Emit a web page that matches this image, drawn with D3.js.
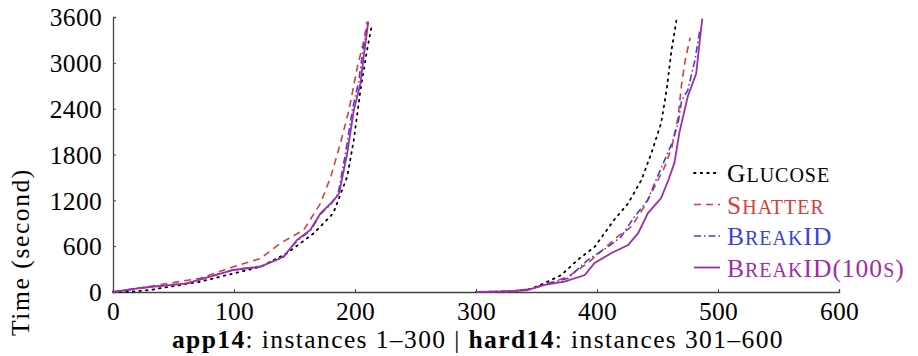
<!DOCTYPE html>
<html>
<head>
<meta charset="utf-8">
<script src="https://cdn.jsdelivr.net/npm/d3@7"></script>
<style>
  body { margin: 0; background: #fff; }
  svg text { font-family: "Liberation Serif", serif; }
</style>
</head>
<body>
<div id="chart"></div>
<script>
// chart size
const width = 918;
const height = 356;

// tick values
const xTicks = [0, 100, 200, 300, 400, 500, 600];
const yTicks = [0, 600, 1200, 1800, 2400, 3000, 3600];

// series names (legend order)
const seriesNames = ['Glucose', 'Shatter', 'BreakID', 'BreakID(100s)'];

// app14 part: [instances solved, time]
const glucoseApp = [[0,0],[15,5],[30,25],[72,135],[122,330],[144,510],[166,770],[182,1030],[193.6,1510],[199,1990],[204.5,2640],[210,3170],[214,3500]];
const shatterApp = [[0,0],[22,52],[72,180],[99.5,330],[122,440],[138,635],[157.6,812],[171.5,1160],[180,1510],[188,1950],[195,2380],[202,2950],[207.5,3300],[210,3540]];
const breakidApp = [[0,0],[22,52],[61,113],[99.5,290],[122,335],[141,460],[152,670],[163,800],[171.5,1020],[180,1150],[186,1280],[192,1800],[198,2400],[203,2750],[206.5,3150],[210,3460]];
const breakid100App = [[0,0],[22,52],[61,113],[99.5,288],[122,331],[141,462],[152,680],[163,812],[171.5,1030],[180,1160],[185,1250],[187,1300],[193.6,1820],[199,2380],[204.5,2730],[207.5,3120],[211,3540]];

// hard14 part
const glucoseHard = [[300,0],[330,10],[345,40],[356.5,115],[370.5,222],[384,420],[398,590],[414,940],[425.7,1160],[436.7,1466],[445,1820],[453,2210],[457.5,2640],[461.6,3170],[465.7,3560]];
const shatterHard = [[300,0],[330,10],[345,40],[356.5,95],[376,200],[392.5,380],[417,725],[428.5,855],[439,1115],[447.7,1380],[456,1640],[462,1900],[467,2290],[470,2730],[473,3040],[477,3330]];
const breakidHard = [[300,0],[330,10],[345,40],[356.5,95],[376,180],[392.5,420],[409,590],[420,725],[431,985],[442,1205],[447.7,1425],[456,1730],[462,1950],[467,2210],[470,2510],[475,2640],[481,3040],[485,3430]];
const breakid100Hard = [[300,0],[330,10],[342.6,26],[356.5,92],[373,135],[390,222],[398,380],[412,510],[425.7,615],[434,770],[442,1030],[453,1230],[459,1466],[464,1690],[468,2080],[475,2560],[482,2860],[485,3300],[487,3580]];

const series = [
    { name: seriesNames[0], parts: [glucoseApp, glucoseHard], color: '#000000', dash: '1.6,5', width: 1.8, cap: 'round' },
    { name: seriesNames[1], parts: [shatterApp, shatterHard], color: '#dc3b3b', dash: '7,5', width: 1.6, cap: 'butt' },
    { name: seriesNames[2], parts: [breakidApp, breakidHard], color: '#3f3fdc', dash: '7,3,1.5,3', width: 1.6, cap: 'butt' },
    { name: seriesNames[3], parts: [breakid100App, breakid100Hard], color: '#a12ca8', dash: null, width: 1.8, cap: 'butt' }
];

const margin = { left: 113, right: 918 - 839, top: 17, bottom: 356 - 292 };

const svg = d3.select('#chart')
    .append('svg')
    .attr('width', width)
    .attr('height', height);

const x = d3.scaleLinear().domain([0, 600]).range([margin.left, width - margin.right]);
const y = d3.scaleLinear().domain([0, 3600]).range([height - margin.bottom, margin.top]);

// axes: only left and bottom lines, inward tiny ticks
const xAxis = svg.append('g')
    .attr('transform', `translate(0,${y(0)})`)
    .call(d3.axisBottom(x).tickValues(xTicks).tickSize(-3).tickPadding(9).tickFormat(d3.format('d')));
const yAxis = svg.append('g')
    .attr('transform', `translate(${x(0)},0)`)
    .call(d3.axisLeft(y).tickValues(yTicks).tickSize(-3).tickPadding(11).tickFormat(d3.format('d')));

[xAxis, yAxis].forEach(g => {
    g.attr('font-size', 25.5);
    g.select('.domain').attr('stroke', '#444').attr('stroke-width', 1.3);
    g.selectAll('.tick line').attr('stroke', '#444').attr('stroke-width', 1);
    g.selectAll('.tick text').attr('fill', '#000').attr('letter-spacing', 0.3);
});
xAxis.selectAll('.tick text').attr('dy', '0.75em');
yAxis.selectAll('.tick text').attr('dy', '0.34em');

// lines
const line = d3.line().x(d => x(d[0])).y(d => y(d[1]));

series.forEach(s => {
    s.parts.forEach(part => {
        svg.append('path')
            .datum(part)
            .attr('d', line)
            .attr('fill', 'none')
            .attr('stroke', s.color)
            .attr('stroke-width', s.width)
            .attr('stroke-linecap', s.cap)
            .attr('stroke-dasharray', s.dash);
    });
});

// legend (small caps drawn by hand: capitals large, the rest smaller upper case)
const legend = svg.append('g').attr('transform', 'translate(694,173)');
series.forEach((s, i) => {
    const row = legend.append('g').attr('transform', `translate(0,${i * 31.5})`);
    row.append('line')
        .attr('x1', 0).attr('x2', 26)
        .attr('y1', 0).attr('y2', 0)
        .attr('stroke', s.color)
        .attr('stroke-width', s.width)
        .attr('stroke-linecap', s.cap)
        .attr('stroke-dasharray', s.dash);
    const t = row.append('text')
        .attr('x', 33)
        .attr('y', 9)
        .attr('fill', s.color)
        .attr('font-size', 25.5)
        .attr('letter-spacing', 1);
    const runs = s.name.match(/[a-z]+|[^a-z]+/g);
    runs.forEach(r => {
        const small = /[a-z]/.test(r);
        t.append('tspan')
            .attr('font-size', small ? 20 : 25.5)
            .text(r.toUpperCase());
    });
});

// axis titles
const xLabel = svg.append('text')
    .attr('x', (x(0) + x(600)) / 2 + 2)
    .attr('y', 348)
    .attr('text-anchor', 'middle')
    .attr('font-size', 25.5)
    .attr('letter-spacing', 1.4);
xLabel.append('tspan').attr('font-weight', 'bold').text('app14');
xLabel.append('tspan').text(': instances 1–300 | ');
xLabel.append('tspan').attr('font-weight', 'bold').text('hard14');
xLabel.append('tspan').text(': instances 301–600');

svg.append('text')
    .attr('transform', 'translate(29,252) rotate(-90)')
    .attr('text-anchor', 'middle')
    .attr('font-size', 25.5)
    .attr('letter-spacing', 1.6)
    .text('Time (second)');
</script>
</body>
</html>
